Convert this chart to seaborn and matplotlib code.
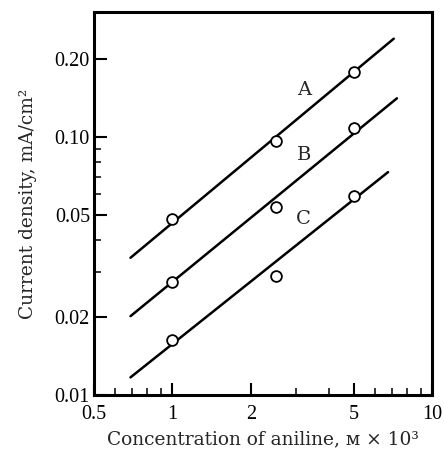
import numpy as np
import pandas as pd
import matplotlib
matplotlib.use('Agg')
import matplotlib.pyplot as plt
import seaborn as sns
from matplotlib.ticker import FixedLocator, NullFormatter

# measured points (concentration x10^3, current density)
conc = [1.0, 2.5, 5.0]
current_a = [0.048, 0.096, 0.178]
current_b = [0.0275, 0.0535, 0.108]
current_c = [0.0163, 0.0288, 0.059]

# fitted straight lines drawn through each series (end points)
fit_x_a = [0.69, 7.1]
fit_y_a = [0.034, 0.24]
fit_x_b = [0.69, 7.3]
fit_y_b = [0.0202, 0.141]
fit_x_c = [0.69, 6.75]
fit_y_c = [0.0117, 0.073]

labels = ['A', 'B', 'C']
label_x = [3.2, 3.2, 3.2]
label_y = [0.152, 0.085, 0.048]

x_major = [0.5, 1, 2, 5, 10]
x_major_labels = ['0.5', '1', '2', '5', '10']
x_minor = [0.6, 0.7, 0.8, 0.9, 3, 4, 6, 7, 8, 9]
y_major = [0.01, 0.02, 0.05, 0.10, 0.20]
y_major_labels = ['0.01', '0.02', '0.05', '0.10', '0.20']
y_minor = [0.03, 0.04, 0.06, 0.07, 0.08, 0.09]

points = pd.DataFrame({
    'conc': conc * 3,
    'current': current_a + current_b + current_c,
    'series': ['A'] * 3 + ['B'] * 3 + ['C'] * 3,
})
fits = pd.DataFrame({
    'conc': fit_x_a + fit_x_b + fit_x_c,
    'current': fit_y_a + fit_y_b + fit_y_c,
    'series': ['A'] * 2 + ['B'] * 2 + ['C'] * 2,
})

sns.set_style('ticks')
plt.rcParams['font.family'] = ['DejaVu Serif']

fig = plt.figure(figsize=(4.44, 4.54), dpi=100)
ax = fig.add_axes([0.212, 0.13, 0.762, 0.844])

sns.lineplot(data=fits, x='conc', y='current', units='series', estimator=None,
             color='black', linewidth=1.8, ax=ax)
sns.scatterplot(data=points, x='conc', y='current', marker='o', s=60,
                facecolor='white', edgecolor='black', linewidth=1.3,
                zorder=3, ax=ax)

ax.set_xscale('log')
ax.set_yscale('log')
ax.set_xlim(0.5, 10)
ax.set_ylim(0.01, 0.305)

ax.xaxis.set_major_locator(FixedLocator(x_major))
ax.xaxis.set_minor_locator(FixedLocator(x_minor))
ax.set_xticklabels(x_major_labels)
ax.xaxis.set_minor_formatter(NullFormatter())
ax.yaxis.set_major_locator(FixedLocator(y_major))
ax.yaxis.set_minor_locator(FixedLocator(y_minor))
ax.set_yticklabels(y_major_labels)
ax.yaxis.set_minor_formatter(NullFormatter())

ax.tick_params(which='major', direction='in', length=9, width=1.5,
               color='black', labelcolor='black', top=False, right=False)
ax.tick_params(axis='x', which='major', pad=7)
ax.tick_params(axis='y', which='major', pad=3)
ax.tick_params(which='minor', direction='in', length=5, width=1.3,
               top=False, right=False)
for lbl in ax.get_xticklabels() + ax.get_yticklabels():
    lbl.set_family('Liberation Serif')
    lbl.set_fontsize(14.5)

for side in ['left', 'right', 'top', 'bottom']:
    ax.spines[side].set_visible(True)
    ax.spines[side].set_linewidth(2.2)
    ax.spines[side].set_color('black')

for text, tx, ty in zip(labels, label_x, label_y):
    ax.text(tx, ty, text, fontsize=14, ha='center', va='center',
            family='DejaVu Serif')

ax.set_xlabel('Concentration of aniline, м × 10³', fontsize=13.4, labelpad=5)
ax.set_ylabel('Current density, mA/cm²', fontsize=13.4, labelpad=13)

fig.savefig('out.png', dpi=100)
